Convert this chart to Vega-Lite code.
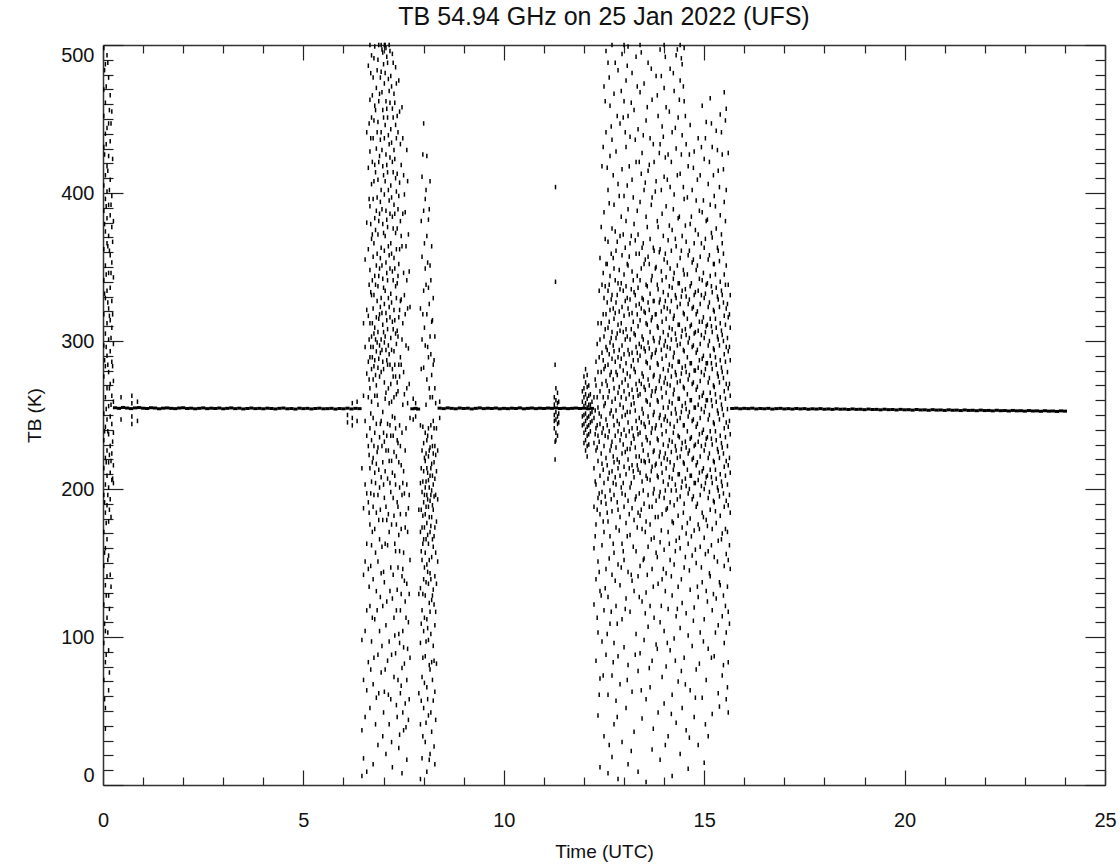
{
"$schema": "https://vega.github.io/schema/vega-lite/v6.json",
"width": 1002, "height": 740,
"autosize": {"type": "none"},
"padding": {"left": 103, "top": 45, "right": 15, "bottom": 81},
"background": "white",
"title": {"text": "TB 54.94 GHz on 25 Jan 2022 (UFS)", "font": "Liberation Sans", "fontSize": 25, "fontWeight": "normal", "color": "#111", "anchor": "middle", "baseline": "alphabetic", "offset": -7},
"config": {"view": {"stroke": null}, "axis": {"grid": false, "domainColor": "#333", "domainWidth": 1.5, "tickColor": "#222", "tickWidth": 1.2, "labelFont": "Liberation Sans", "labelColor": "#111", "titleFont": "Liberation Sans", "titleColor": "#111", "titleFontWeight": "normal"}},
"datasets": {
"base": [
{"t":0.3,"k":254.9},{"t":0.4,"k":254.5},{"t":0.5,"k":255.1},{"t":0.6,"k":254.7},{"t":0.7,"k":254.3},{"t":0.8,"k":254.8},{"t":0.9,"k":255.0},{"t":1.0,"k":254.6},{"t":1.1,"k":254.4},{"t":1.2,"k":254.9},{"t":1.3,"k":254.7},{"t":1.4,"k":254.2},{"t":1.5,"k":254.6},{"t":1.6,"k":254.8},{"t":1.7,"k":254.5},{"t":1.8,"k":254.3},{"t":1.9,"k":254.7},{"t":2.0,"k":254.9},{"t":2.1,"k":254.4},{"t":2.2,"k":254.6},{"t":2.3,"k":254.2},{"t":2.4,"k":254.5},{"t":2.5,"k":254.8},{"t":2.6,"k":254.3},{"t":2.7,"k":254.6},{"t":2.8,"k":254.4},{"t":2.9,"k":254.7},{"t":3.0,"k":254.2},{"t":3.1,"k":254.5},{"t":3.2,"k":254.8},{"t":3.3,"k":254.3},{"t":3.4,"k":254.6},{"t":3.5,"k":254.1},{"t":3.6,"k":254.4},{"t":3.7,"k":254.7},{"t":3.8,"k":254.3},{"t":3.9,"k":254.5},{"t":4.0,"k":254.2},{"t":4.1,"k":254.6},{"t":4.2,"k":254.4},{"t":4.3,"k":254.1},{"t":4.4,"k":254.5},{"t":4.5,"k":254.7},{"t":4.6,"k":254.2},{"t":4.7,"k":254.4},{"t":4.8,"k":254.0},{"t":4.9,"k":254.6},{"t":5.0,"k":254.3},{"t":5.1,"k":254.5},{"t":5.2,"k":254.1},{"t":5.3,"k":254.4},{"t":5.4,"k":254.6},{"t":5.5,"k":254.2},{"t":5.6,"k":254.3},{"t":5.7,"k":254.5},{"t":5.8,"k":254.0},{"t":5.9,"k":254.4},{"t":6.0,"k":254.2},{"t":6.1,"k":254.6},{"t":6.2,"k":254.1},{"t":6.3,"k":254.5},{"t":6.4,"k":254.3},
{"t":7.72,"k":254.2},{"t":7.8,"k":254.5},{"t":7.86,"k":254.0},
{"t":8.4,"k":254.6},{"t":8.5,"k":254.3},{"t":8.6,"k":254.8},{"t":8.7,"k":254.5},{"t":8.8,"k":254.2},{"t":8.9,"k":254.7},{"t":9.0,"k":254.4},{"t":9.1,"k":254.6},{"t":9.2,"k":254.1},{"t":9.3,"k":254.5},{"t":9.4,"k":254.8},{"t":9.5,"k":254.3},{"t":9.6,"k":254.6},{"t":9.7,"k":254.4},{"t":9.8,"k":254.7},{"t":9.9,"k":254.2},{"t":10.0,"k":254.5},{"t":10.1,"k":254.3},{"t":10.2,"k":254.6},{"t":10.3,"k":254.4},{"t":10.4,"k":254.8},{"t":10.5,"k":254.2},{"t":10.6,"k":254.5},{"t":10.7,"k":254.7},{"t":10.8,"k":254.3},{"t":10.9,"k":254.6},{"t":11.0,"k":254.4},{"t":11.1,"k":254.7},{"t":11.2,"k":254.5},{"t":11.3,"k":254.8},{"t":11.4,"k":254.4},{"t":11.5,"k":254.6},{"t":11.6,"k":254.3},{"t":11.7,"k":254.5},{"t":11.8,"k":254.7},{"t":11.9,"k":254.4},{"t":12.0,"k":254.6},{"t":12.1,"k":254.2},{"t":12.2,"k":254.5},
{"t":15.7,"k":254.4},{"t":15.8,"k":254.6},{"t":15.9,"k":254.2},{"t":16.0,"k":254.5},{"t":16.1,"k":254.3},{"t":16.2,"k":254.6},{"t":16.3,"k":254.1},{"t":16.4,"k":254.4},{"t":16.5,"k":254.2},{"t":16.6,"k":254.5},{"t":16.7,"k":254.0},{"t":16.8,"k":254.3},{"t":16.9,"k":254.5},{"t":17.0,"k":254.1},{"t":17.1,"k":254.3},{"t":17.2,"k":254.0},{"t":17.3,"k":254.4},{"t":17.4,"k":254.1},{"t":17.5,"k":254.3},{"t":17.6,"k":253.9},{"t":17.7,"k":254.2},{"t":17.8,"k":254.0},{"t":17.9,"k":254.3},{"t":18.0,"k":253.9},{"t":18.1,"k":254.1},{"t":18.2,"k":253.8},{"t":18.3,"k":254.2},{"t":18.4,"k":253.9},{"t":18.5,"k":254.0},{"t":18.6,"k":253.7},{"t":18.7,"k":254.1},{"t":18.8,"k":253.8},{"t":18.9,"k":253.9},{"t":19.0,"k":253.6},{"t":19.1,"k":254.0},{"t":19.2,"k":253.7},{"t":19.3,"k":253.8},{"t":19.4,"k":253.5},{"t":19.5,"k":253.9},{"t":19.6,"k":253.6},{"t":19.7,"k":253.7},{"t":19.8,"k":253.4},{"t":19.9,"k":253.8},{"t":20.0,"k":253.5},{"t":20.1,"k":253.6},{"t":20.2,"k":253.3},{"t":20.3,"k":253.7},{"t":20.4,"k":253.4},{"t":20.5,"k":253.5},{"t":20.6,"k":253.2},{"t":20.7,"k":253.6},{"t":20.8,"k":253.3},{"t":20.9,"k":253.4},{"t":21.0,"k":253.1},{"t":21.1,"k":253.5},{"t":21.2,"k":253.2},{"t":21.3,"k":253.3},{"t":21.4,"k":253.0},{"t":21.5,"k":253.4},{"t":21.6,"k":253.1},{"t":21.7,"k":253.2},{"t":21.8,"k":252.9},{"t":21.9,"k":253.3},{"t":22.0,"k":253.0},{"t":22.1,"k":253.1},{"t":22.2,"k":252.8},{"t":22.3,"k":253.2},{"t":22.4,"k":252.9},{"t":22.5,"k":253.0},{"t":22.6,"k":252.7},{"t":22.7,"k":253.1},{"t":22.8,"k":252.8},{"t":22.9,"k":252.9},{"t":23.0,"k":252.6},{"t":23.1,"k":253.0},{"t":23.2,"k":252.7},{"t":23.3,"k":252.8},{"t":23.4,"k":252.5},{"t":23.5,"k":252.9},{"t":23.6,"k":252.6},{"t":23.7,"k":252.7},{"t":23.8,"k":252.4},{"t":23.9,"k":252.8},{"t":24.0,"k":252.6}
],
"noise": [
{"t":0.02,"k":498},{"t":0.02,"k":470},{"t":0.02,"k":452},{"t":0.02,"k":431},{"t":0.02,"k":405},{"t":0.02,"k":388},{"t":0.02,"k":362},{"t":0.02,"k":341},{"t":0.02,"k":318},{"t":0.02,"k":297},{"t":0.02,"k":276},{"t":0.02,"k":251},{"t":0.02,"k":233},{"t":0.02,"k":214},{"t":0.02,"k":196},{"t":0.02,"k":171},{"t":0.02,"k":148},{"t":0.02,"k":122},{"t":0.02,"k":96},{"t":0.02,"k":71},
{"t":0.06,"k":487},{"t":0.06,"k":461},{"t":0.06,"k":440},{"t":0.06,"k":412},{"t":0.06,"k":396},{"t":0.06,"k":374},{"t":0.06,"k":351},{"t":0.06,"k":329},{"t":0.06,"k":305},{"t":0.06,"k":283},{"t":0.06,"k":262},{"t":0.06,"k":242},{"t":0.06,"k":221},{"t":0.06,"k":203},{"t":0.06,"k":184},{"t":0.06,"k":160},{"t":0.06,"k":135},{"t":0.06,"k":104},{"t":0.06,"k":83},{"t":0.06,"k":52},{"t":0.06,"k":38},
{"t":0.1,"k":493},{"t":0.1,"k":444},{"t":0.1,"k":418},{"t":0.1,"k":401},{"t":0.1,"k":383},{"t":0.1,"k":366},{"t":0.1,"k":334},{"t":0.1,"k":312},{"t":0.1,"k":290},{"t":0.1,"k":268},{"t":0.1,"k":247},{"t":0.1,"k":226},{"t":0.1,"k":209},{"t":0.1,"k":189},{"t":0.1,"k":166},{"t":0.1,"k":141},{"t":0.1,"k":113},
{"t":0.14,"k":478},{"t":0.14,"k":447},{"t":0.14,"k":425},{"t":0.14,"k":392},{"t":0.14,"k":371},{"t":0.14,"k":346},{"t":0.14,"k":322},{"t":0.14,"k":301},{"t":0.14,"k":279},{"t":0.14,"k":256},{"t":0.14,"k":237},{"t":0.14,"k":218},{"t":0.14,"k":201},{"t":0.14,"k":178},{"t":0.14,"k":155},{"t":0.14,"k":128},{"t":0.14,"k":91},{"t":0.14,"k":64},
{"t":0.18,"k":466},{"t":0.18,"k":435},{"t":0.18,"k":409},{"t":0.18,"k":385},{"t":0.18,"k":358},{"t":0.18,"k":336},{"t":0.18,"k":314},{"t":0.18,"k":293},{"t":0.18,"k":271},{"t":0.18,"k":249},{"t":0.18,"k":229},{"t":0.18,"k":211},{"t":0.18,"k":193},{"t":0.18,"k":142},
{"t":0.22,"k":455},{"t":0.22,"k":398},{"t":0.22,"k":377},{"t":0.22,"k":353},{"t":0.22,"k":327},{"t":0.22,"k":309},{"t":0.22,"k":286},{"t":0.22,"k":263},{"t":0.22,"k":244},{"t":0.22,"k":224},{"t":0.22,"k":206},
{"t":0.26,"k":381},{"t":0.26,"k":343},{"t":0.26,"k":298},{"t":0.26,"k":273},{"t":0.26,"k":259},{"t":0.26,"k":238},{"t":0.26,"k":216},{"t":0.26,"k":204},
{"t":0.04,"k":483},{"t":0.04,"k":426},{"t":0.04,"k":379},{"t":0.04,"k":332},{"t":0.04,"k":287},{"t":0.04,"k":239},{"t":0.04,"k":191},{"t":0.04,"k":157},{"t":0.04,"k":109},{"t":0.04,"k":58},
{"t":0.08,"k":472},{"t":0.08,"k":433},{"t":0.08,"k":391},{"t":0.08,"k":345},{"t":0.08,"k":296},{"t":0.08,"k":254},{"t":0.08,"k":218},{"t":0.08,"k":177},{"t":0.08,"k":128},{"t":0.08,"k":88},
{"t":0.12,"k":488},{"t":0.12,"k":415},{"t":0.12,"k":364},{"t":0.12,"k":326},{"t":0.12,"k":284},{"t":0.12,"k":239},{"t":0.12,"k":196},{"t":0.12,"k":152},{"t":0.12,"k":103},
{"t":0.16,"k":456},{"t":0.16,"k":402},{"t":0.16,"k":361},{"t":0.16,"k":317},{"t":0.16,"k":268},{"t":0.16,"k":223},{"t":0.16,"k":186},{"t":0.16,"k":119},{"t":0.16,"k":76},
{"t":0.2,"k":447},{"t":0.2,"k":392},{"t":0.2,"k":346},{"t":0.2,"k":302},{"t":0.2,"k":257},{"t":0.2,"k":219},{"t":0.2,"k":181},{"t":0.2,"k":134},
{"t":0.24,"k":423},{"t":0.24,"k":367},{"t":0.24,"k":318},{"t":0.24,"k":283},{"t":0.24,"k":232},{"t":0.24,"k":207},
{"t":0.45,"k":247},{"t":0.45,"k":262},{"t":0.72,"k":244},{"t":0.72,"k":249},{"t":0.72,"k":258},{"t":0.72,"k":263},{"t":0.86,"k":246},{"t":0.86,"k":259},{"t":6.1,"k":245},{"t":6.1,"k":250},{"t":6.22,"k":243},{"t":6.22,"k":248},{"t":6.22,"k":258},{"t":6.34,"k":246},{"t":6.34,"k":259},{"t":7.74,"k":247},{"t":7.74,"k":261},{"t":7.8,"k":249},{"t":7.8,"k":258},{"t":8.4,"k":248},{"t":8.4,"k":259},
{"t":6.46,"k":214},{"t":6.46,"k":98},{"t":6.46,"k":37},{"t":6.46,"k":6},
{"t":6.5,"k":312},{"t":6.5,"k":263},{"t":6.5,"k":187},{"t":6.5,"k":142},{"t":6.5,"k":71},{"t":6.5,"k":18},
{"t":6.54,"k":355},{"t":6.54,"k":296},{"t":6.54,"k":246},{"t":6.54,"k":203},{"t":6.54,"k":151},{"t":6.54,"k":104},{"t":6.54,"k":46},
{"t":6.58,"k":441},{"t":6.58,"k":380},{"t":6.58,"k":321},{"t":6.58,"k":278},{"t":6.58,"k":236},{"t":6.58,"k":197},{"t":6.58,"k":163},{"t":6.58,"k":118},{"t":6.58,"k":64},{"t":6.58,"k":9},
{"t":6.62,"k":486},{"t":6.62,"k":417},{"t":6.62,"k":362},{"t":6.62,"k":317},{"t":6.62,"k":286},{"t":6.62,"k":262},{"t":6.62,"k":229},{"t":6.62,"k":191},{"t":6.62,"k":146},{"t":6.62,"k":83},
{"t":6.66,"k":502},{"t":6.66,"k":463},{"t":6.66,"k":428},{"t":6.66,"k":391},{"t":6.66,"k":348},{"t":6.66,"k":312},{"t":6.66,"k":289},{"t":6.66,"k":268},{"t":6.66,"k":241},{"t":6.66,"k":214},{"t":6.66,"k":176},{"t":6.66,"k":121},{"t":6.66,"k":52},
{"t":6.7,"k":493},{"t":6.7,"k":451},{"t":6.7,"k":406},{"t":6.7,"k":369},{"t":6.7,"k":331},{"t":6.7,"k":303},{"t":6.7,"k":281},{"t":6.7,"k":259},{"t":6.7,"k":233},{"t":6.7,"k":205},{"t":6.7,"k":162},{"t":6.7,"k":97},
{"t":6.74,"k":478},{"t":6.74,"k":437},{"t":6.74,"k":396},{"t":6.74,"k":357},{"t":6.74,"k":322},{"t":6.74,"k":296},{"t":6.74,"k":274},{"t":6.74,"k":248},{"t":6.74,"k":221},{"t":6.74,"k":188},{"t":6.74,"k":139},{"t":6.74,"k":68},{"t":6.74,"k":14},
{"t":6.78,"k":499},{"t":6.78,"k":459},{"t":6.78,"k":419},{"t":6.78,"k":383},{"t":6.78,"k":344},{"t":6.78,"k":309},{"t":6.78,"k":287},{"t":6.78,"k":263},{"t":6.78,"k":238},{"t":6.78,"k":211},{"t":6.78,"k":173},{"t":6.78,"k":112},
{"t":6.82,"k":471},{"t":6.82,"k":430},{"t":6.82,"k":388},{"t":6.82,"k":351},{"t":6.82,"k":316},{"t":6.82,"k":293},{"t":6.82,"k":270},{"t":6.82,"k":244},{"t":6.82,"k":217},{"t":6.82,"k":184},{"t":6.82,"k":131},{"t":6.82,"k":59},
{"t":6.86,"k":490},{"t":6.86,"k":448},{"t":6.86,"k":409},{"t":6.86,"k":372},{"t":6.86,"k":337},{"t":6.86,"k":306},{"t":6.86,"k":282},{"t":6.86,"k":257},{"t":6.86,"k":228},{"t":6.86,"k":196},{"t":6.86,"k":151},{"t":6.86,"k":88},{"t":6.86,"k":27},
{"t":6.9,"k":467},{"t":6.9,"k":425},{"t":6.9,"k":386},{"t":6.9,"k":349},{"t":6.9,"k":318},{"t":6.9,"k":297},{"t":6.9,"k":276},{"t":6.9,"k":235},{"t":6.9,"k":201},{"t":6.9,"k":166},{"t":6.9,"k":104},
{"t":6.94,"k":503},{"t":6.94,"k":482},{"t":6.94,"k":441},{"t":6.94,"k":402},{"t":6.94,"k":363},{"t":6.94,"k":329},{"t":6.94,"k":301},{"t":6.94,"k":279},{"t":6.94,"k":246},{"t":6.94,"k":208},{"t":6.94,"k":143},{"t":6.94,"k":76},
{"t":6.98,"k":495},{"t":6.98,"k":456},{"t":6.98,"k":418},{"t":6.98,"k":379},{"t":6.98,"k":342},{"t":6.98,"k":311},{"t":6.98,"k":286},{"t":6.98,"k":252},{"t":6.98,"k":218},{"t":6.98,"k":179},{"t":6.98,"k":121},{"t":6.98,"k":33},
{"t":7.02,"k":506},{"t":7.02,"k":474},{"t":7.02,"k":437},{"t":7.02,"k":399},{"t":7.02,"k":361},{"t":7.02,"k":325},{"t":7.02,"k":299},{"t":7.02,"k":272},{"t":7.02,"k":232},{"t":7.02,"k":194},{"t":7.02,"k":137},{"t":7.02,"k":63},
{"t":7.06,"k":498},{"t":7.06,"k":462},{"t":7.06,"k":426},{"t":7.06,"k":388},{"t":7.06,"k":353},{"t":7.06,"k":319},{"t":7.06,"k":294},{"t":7.06,"k":265},{"t":7.06,"k":226},{"t":7.06,"k":188},{"t":7.06,"k":108},{"t":7.06,"k":21},
{"t":7.1,"k":488},{"t":7.1,"k":451},{"t":7.1,"k":414},{"t":7.1,"k":377},{"t":7.1,"k":341},{"t":7.1,"k":308},{"t":7.1,"k":284},{"t":7.1,"k":244},{"t":7.1,"k":207},{"t":7.1,"k":162},{"t":7.1,"k":84},
{"t":7.14,"k":501},{"t":7.14,"k":469},{"t":7.14,"k":433},{"t":7.14,"k":395},{"t":7.14,"k":358},{"t":7.14,"k":323},{"t":7.14,"k":291},{"t":7.14,"k":258},{"t":7.14,"k":219},{"t":7.14,"k":171},{"t":7.14,"k":97},{"t":7.14,"k":41},
{"t":7.18,"k":479},{"t":7.18,"k":443},{"t":7.18,"k":405},{"t":7.18,"k":366},{"t":7.18,"k":332},{"t":7.18,"k":302},{"t":7.18,"k":271},{"t":7.18,"k":236},{"t":7.18,"k":198},{"t":7.18,"k":147},{"t":7.18,"k":58},
{"t":7.22,"k":494},{"t":7.22,"k":457},{"t":7.22,"k":421},{"t":7.22,"k":384},{"t":7.22,"k":347},{"t":7.22,"k":313},{"t":7.22,"k":281},{"t":7.22,"k":249},{"t":7.22,"k":211},{"t":7.22,"k":126},{"t":7.22,"k":12},
{"t":7.26,"k":467},{"t":7.26,"k":429},{"t":7.26,"k":392},{"t":7.26,"k":356},{"t":7.26,"k":321},{"t":7.26,"k":293},{"t":7.26,"k":262},{"t":7.26,"k":225},{"t":7.26,"k":182},{"t":7.26,"k":113},{"t":7.26,"k":73},
{"t":7.3,"k":485},{"t":7.3,"k":446},{"t":7.3,"k":410},{"t":7.3,"k":373},{"t":7.3,"k":337},{"t":7.3,"k":305},{"t":7.3,"k":276},{"t":7.3,"k":241},{"t":7.3,"k":203},{"t":7.3,"k":158},{"t":7.3,"k":89},
{"t":7.34,"k":452},{"t":7.34,"k":413},{"t":7.34,"k":376},{"t":7.34,"k":339},{"t":7.34,"k":307},{"t":7.34,"k":272},{"t":7.34,"k":233},{"t":7.34,"k":191},{"t":7.34,"k":132},{"t":7.34,"k":46},
{"t":7.38,"k":476},{"t":7.38,"k":398},{"t":7.38,"k":352},{"t":7.38,"k":316},{"t":7.38,"k":284},{"t":7.38,"k":218},{"t":7.38,"k":169},{"t":7.38,"k":102},{"t":7.38,"k":25},
{"t":7.42,"k":433},{"t":7.42,"k":381},{"t":7.42,"k":327},{"t":7.42,"k":289},{"t":7.42,"k":229},{"t":7.42,"k":183},{"t":7.42,"k":118},{"t":7.42,"k":62},
{"t":7.46,"k":458},{"t":7.46,"k":364},{"t":7.46,"k":301},{"t":7.46,"k":238},{"t":7.46,"k":196},{"t":7.46,"k":141},{"t":7.46,"k":79},{"t":7.46,"k":8},
{"t":7.5,"k":412},{"t":7.5,"k":346},{"t":7.5,"k":279},{"t":7.5,"k":212},{"t":7.5,"k":157},{"t":7.5,"k":93},{"t":7.5,"k":37},
{"t":7.54,"k":387},{"t":7.54,"k":318},{"t":7.54,"k":226},{"t":7.54,"k":174},{"t":7.54,"k":124},{"t":7.54,"k":55},
{"t":7.58,"k":429},{"t":7.58,"k":341},{"t":7.58,"k":268},{"t":7.58,"k":203},{"t":7.58,"k":136},{"t":7.58,"k":71},{"t":7.58,"k":17},
{"t":7.62,"k":372},{"t":7.62,"k":295},{"t":7.62,"k":187},{"t":7.62,"k":110},{"t":7.62,"k":44},
{"t":7.66,"k":323},{"t":7.66,"k":248},{"t":7.66,"k":152},{"t":7.66,"k":86},
{"t":6.64,"k":447},{"t":6.64,"k":396},{"t":6.64,"k":338},{"t":6.64,"k":301},{"t":6.64,"k":274},{"t":6.64,"k":223},{"t":6.64,"k":184},{"t":6.64,"k":134},
{"t":6.68,"k":481},{"t":6.68,"k":437},{"t":6.68,"k":379},{"t":6.68,"k":333},{"t":6.68,"k":296},{"t":6.68,"k":251},{"t":6.68,"k":197},{"t":6.68,"k":148},{"t":6.68,"k":78},
{"t":6.72,"k":466},{"t":6.72,"k":421},{"t":6.72,"k":372},{"t":6.72,"k":341},{"t":6.72,"k":312},{"t":6.72,"k":289},{"t":6.72,"k":218},{"t":6.72,"k":171},{"t":6.72,"k":113},
{"t":6.76,"k":491},{"t":6.76,"k":449},{"t":6.76,"k":408},{"t":6.76,"k":366},{"t":6.76,"k":331},{"t":6.76,"k":305},{"t":6.76,"k":283},{"t":6.76,"k":229},{"t":6.76,"k":196},{"t":6.76,"k":86},
{"t":6.8,"k":456},{"t":6.8,"k":414},{"t":6.8,"k":375},{"t":6.8,"k":338},{"t":6.8,"k":301},{"t":6.8,"k":277},{"t":6.8,"k":204},{"t":6.8,"k":157},{"t":6.8,"k":41},
{"t":6.84,"k":483},{"t":6.84,"k":441},{"t":6.84,"k":397},{"t":6.84,"k":359},{"t":6.84,"k":327},{"t":6.84,"k":299},{"t":6.84,"k":263},{"t":6.84,"k":225},{"t":6.84,"k":118},
{"t":6.88,"k":502},{"t":6.88,"k":462},{"t":6.88,"k":421},{"t":6.88,"k":381},{"t":6.88,"k":344},{"t":6.88,"k":315},{"t":6.88,"k":288},{"t":6.88,"k":213},{"t":6.88,"k":179},{"t":6.88,"k":62},
{"t":6.92,"k":478},{"t":6.92,"k":436},{"t":6.92,"k":394},{"t":6.92,"k":356},{"t":6.92,"k":323},{"t":6.92,"k":292},{"t":6.92,"k":244},{"t":6.92,"k":186},{"t":6.92,"k":127},
{"t":6.96,"k":497},{"t":6.96,"k":468},{"t":6.96,"k":429},{"t":6.96,"k":389},{"t":6.96,"k":351},{"t":6.96,"k":319},{"t":6.96,"k":294},{"t":6.96,"k":229},{"t":6.96,"k":161},{"t":6.96,"k":94},
{"t":7.0,"k":487},{"t":7.0,"k":451},{"t":7.0,"k":412},{"t":7.0,"k":373},{"t":7.0,"k":336},{"t":7.0,"k":306},{"t":7.0,"k":281},{"t":7.0,"k":238},{"t":7.0,"k":203},{"t":7.0,"k":144},{"t":7.0,"k":49},
{"t":7.04,"k":503},{"t":7.04,"k":481},{"t":7.04,"k":446},{"t":7.04,"k":408},{"t":7.04,"k":371},{"t":7.04,"k":334},{"t":7.04,"k":303},{"t":7.04,"k":261},{"t":7.04,"k":212},{"t":7.04,"k":163},{"t":7.04,"k":78},
{"t":7.08,"k":492},{"t":7.08,"k":457},{"t":7.08,"k":419},{"t":7.08,"k":382},{"t":7.08,"k":346},{"t":7.08,"k":314},{"t":7.08,"k":287},{"t":7.08,"k":236},{"t":7.08,"k":179},{"t":7.08,"k":124},
{"t":7.12,"k":477},{"t":7.12,"k":439},{"t":7.12,"k":402},{"t":7.12,"k":364},{"t":7.12,"k":329},{"t":7.12,"k":297},{"t":7.12,"k":268},{"t":7.12,"k":226},{"t":7.12,"k":183},{"t":7.12,"k":61},
{"t":7.16,"k":496},{"t":7.16,"k":461},{"t":7.16,"k":424},{"t":7.16,"k":386},{"t":7.16,"k":349},{"t":7.16,"k":316},{"t":7.16,"k":284},{"t":7.16,"k":243},{"t":7.16,"k":204},{"t":7.16,"k":131},
{"t":7.2,"k":472},{"t":7.2,"k":434},{"t":7.2,"k":397},{"t":7.2,"k":359},{"t":7.2,"k":326},{"t":7.2,"k":294},{"t":7.2,"k":259},{"t":7.2,"k":219},{"t":7.2,"k":176},{"t":7.2,"k":88},{"t":7.2,"k":29},
{"t":7.24,"k":488},{"t":7.24,"k":451},{"t":7.24,"k":414},{"t":7.24,"k":376},{"t":7.24,"k":341},{"t":7.24,"k":308},{"t":7.24,"k":276},{"t":7.24,"k":236},{"t":7.24,"k":194},{"t":7.24,"k":142},
{"t":7.28,"k":461},{"t":7.28,"k":423},{"t":7.28,"k":386},{"t":7.28,"k":349},{"t":7.28,"k":314},{"t":7.28,"k":284},{"t":7.28,"k":248},{"t":7.28,"k":209},{"t":7.28,"k":163},{"t":7.28,"k":101},
{"t":7.32,"k":474},{"t":7.32,"k":437},{"t":7.32,"k":401},{"t":7.32,"k":362},{"t":7.32,"k":329},{"t":7.32,"k":298},{"t":7.32,"k":264},{"t":7.32,"k":222},{"t":7.32,"k":176},{"t":7.32,"k":118},{"t":7.32,"k":54},
{"t":7.36,"k":441},{"t":7.36,"k":389},{"t":7.36,"k":344},{"t":7.36,"k":303},{"t":7.36,"k":266},{"t":7.36,"k":231},{"t":7.36,"k":188},{"t":7.36,"k":147},{"t":7.36,"k":71},
{"t":7.4,"k":455},{"t":7.4,"k":407},{"t":7.4,"k":362},{"t":7.4,"k":321},{"t":7.4,"k":276},{"t":7.4,"k":243},{"t":7.4,"k":201},{"t":7.4,"k":158},{"t":7.4,"k":96},{"t":7.4,"k":34},
{"t":7.44,"k":419},{"t":7.44,"k":371},{"t":7.44,"k":328},{"t":7.44,"k":284},{"t":7.44,"k":216},{"t":7.44,"k":173},{"t":7.44,"k":129},{"t":7.44,"k":67},
{"t":7.48,"k":437},{"t":7.48,"k":386},{"t":7.48,"k":312},{"t":7.48,"k":257},{"t":7.48,"k":204},{"t":7.48,"k":146},{"t":7.48,"k":104},{"t":7.48,"k":49},
{"t":7.52,"k":399},{"t":7.52,"k":331},{"t":7.52,"k":264},{"t":7.52,"k":197},{"t":7.52,"k":138},{"t":7.52,"k":82},
{"t":7.56,"k":364},{"t":7.56,"k":297},{"t":7.56,"k":241},{"t":7.56,"k":183},{"t":7.56,"k":113},{"t":7.56,"k":39},
{"t":7.6,"k":408},{"t":7.6,"k":322},{"t":7.6,"k":258},{"t":7.6,"k":171},{"t":7.6,"k":92},
{"t":7.64,"k":347},{"t":7.64,"k":271},{"t":7.64,"k":196},{"t":7.64,"k":129},{"t":7.64,"k":58},
{"t":7.88,"k":186},{"t":7.88,"k":129},{"t":7.88,"k":62},
{"t":7.92,"k":322},{"t":7.92,"k":243},{"t":7.92,"k":204},{"t":7.92,"k":171},{"t":7.92,"k":133},{"t":7.92,"k":96},{"t":7.92,"k":41},{"t":7.92,"k":4},
{"t":7.96,"k":411},{"t":7.96,"k":357},{"t":7.96,"k":301},{"t":7.96,"k":226},{"t":7.96,"k":198},{"t":7.96,"k":174},{"t":7.96,"k":152},{"t":7.96,"k":118},{"t":7.96,"k":73},{"t":7.96,"k":18},
{"t":8.0,"k":447},{"t":8.0,"k":388},{"t":8.0,"k":334},{"t":8.0,"k":282},{"t":8.0,"k":231},{"t":8.0,"k":212},{"t":8.0,"k":191},{"t":8.0,"k":166},{"t":8.0,"k":139},{"t":8.0,"k":104},{"t":8.0,"k":52},
{"t":8.04,"k":396},{"t":8.04,"k":349},{"t":8.04,"k":297},{"t":8.04,"k":238},{"t":8.04,"k":219},{"t":8.04,"k":201},{"t":8.04,"k":183},{"t":8.04,"k":157},{"t":8.04,"k":128},{"t":8.04,"k":87},{"t":8.04,"k":29},
{"t":8.08,"k":425},{"t":8.08,"k":371},{"t":8.08,"k":318},{"t":8.08,"k":274},{"t":8.08,"k":233},{"t":8.08,"k":214},{"t":8.08,"k":196},{"t":8.08,"k":177},{"t":8.08,"k":149},{"t":8.08,"k":112},{"t":8.08,"k":66},{"t":8.08,"k":9},
{"t":8.12,"k":382},{"t":8.12,"k":336},{"t":8.12,"k":289},{"t":8.12,"k":241},{"t":8.12,"k":222},{"t":8.12,"k":206},{"t":8.12,"k":188},{"t":8.12,"k":163},{"t":8.12,"k":136},{"t":8.12,"k":98},{"t":8.12,"k":47},
{"t":8.16,"k":408},{"t":8.16,"k":351},{"t":8.16,"k":303},{"t":8.16,"k":262},{"t":8.16,"k":228},{"t":8.16,"k":209},{"t":8.16,"k":192},{"t":8.16,"k":171},{"t":8.16,"k":143},{"t":8.16,"k":117},{"t":8.16,"k":78},{"t":8.16,"k":21},
{"t":8.2,"k":364},{"t":8.2,"k":313},{"t":8.2,"k":277},{"t":8.2,"k":235},{"t":8.2,"k":217},{"t":8.2,"k":199},{"t":8.2,"k":181},{"t":8.2,"k":154},{"t":8.2,"k":125},{"t":8.2,"k":83},{"t":8.2,"k":36},
{"t":8.24,"k":329},{"t":8.24,"k":284},{"t":8.24,"k":246},{"t":8.24,"k":224},{"t":8.24,"k":203},{"t":8.24,"k":186},{"t":8.24,"k":161},{"t":8.24,"k":132},{"t":8.24,"k":94},{"t":8.24,"k":57},
{"t":8.28,"k":303},{"t":8.28,"k":268},{"t":8.28,"k":229},{"t":8.28,"k":207},{"t":8.28,"k":174},{"t":8.28,"k":141},{"t":8.28,"k":108},{"t":8.28,"k":63},{"t":8.28,"k":14},
{"t":8.32,"k":241},{"t":8.32,"k":212},{"t":8.32,"k":178},{"t":8.32,"k":136},{"t":8.32,"k":82},
{"t":8.35,"k":226},{"t":8.35,"k":193},{"t":8.35,"k":151},
{"t":7.94,"k":381},{"t":7.94,"k":281},{"t":7.94,"k":214},{"t":7.94,"k":186},{"t":7.94,"k":158},{"t":7.94,"k":109},{"t":7.94,"k":57},
{"t":7.98,"k":426},{"t":7.98,"k":318},{"t":7.98,"k":242},{"t":7.98,"k":205},{"t":7.98,"k":182},{"t":7.98,"k":163},{"t":7.98,"k":129},{"t":7.98,"k":86},{"t":7.98,"k":33},
{"t":8.02,"k":366},{"t":8.02,"k":309},{"t":8.02,"k":221},{"t":8.02,"k":196},{"t":8.02,"k":174},{"t":8.02,"k":147},{"t":8.02,"k":113},{"t":8.02,"k":69},
{"t":8.06,"k":402},{"t":8.06,"k":338},{"t":8.06,"k":257},{"t":8.06,"k":224},{"t":8.06,"k":205},{"t":8.06,"k":188},{"t":8.06,"k":166},{"t":8.06,"k":137},{"t":8.06,"k":97},{"t":8.06,"k":42},
{"t":8.1,"k":353},{"t":8.1,"k":296},{"t":8.1,"k":236},{"t":8.1,"k":211},{"t":8.1,"k":193},{"t":8.1,"k":169},{"t":8.1,"k":144},{"t":8.1,"k":106},{"t":8.1,"k":58},
{"t":8.14,"k":389},{"t":8.14,"k":325},{"t":8.14,"k":268},{"t":8.14,"k":226},{"t":8.14,"k":201},{"t":8.14,"k":181},{"t":8.14,"k":152},{"t":8.14,"k":123},{"t":8.14,"k":81},{"t":8.14,"k":17},
{"t":8.18,"k":341},{"t":8.18,"k":291},{"t":8.18,"k":243},{"t":8.18,"k":214},{"t":8.18,"k":196},{"t":8.18,"k":175},{"t":8.18,"k":139},{"t":8.18,"k":102},{"t":8.18,"k":49},
{"t":8.22,"k":314},{"t":8.22,"k":262},{"t":8.22,"k":229},{"t":8.22,"k":209},{"t":8.22,"k":189},{"t":8.22,"k":166},{"t":8.22,"k":128},{"t":8.22,"k":71},
{"t":8.26,"k":287},{"t":8.26,"k":241},{"t":8.26,"k":218},{"t":8.26,"k":195},{"t":8.26,"k":168},{"t":8.26,"k":122},{"t":8.26,"k":84},{"t":8.26,"k":26},
{"t":8.3,"k":258},{"t":8.3,"k":223},{"t":8.3,"k":196},{"t":8.3,"k":157},{"t":8.3,"k":117},{"t":8.3,"k":44},
{"t":11.29,"k":404},{"t":11.29,"k":340},{"t":11.28,"k":284},{"t":11.28,"k":232},{"t":11.28,"k":220},
{"t":11.26,"k":262},{"t":11.26,"k":257},{"t":11.26,"k":250},{"t":11.26,"k":246},{"t":11.26,"k":241},{"t":11.3,"k":268},{"t":11.3,"k":260},{"t":11.3,"k":252},{"t":11.3,"k":247},{"t":11.3,"k":238},{"t":11.3,"k":233},{"t":11.34,"k":265},{"t":11.34,"k":258},{"t":11.34,"k":249},{"t":11.34,"k":244},{"t":11.34,"k":236},{"t":11.37,"k":259},{"t":11.37,"k":251},{"t":11.37,"k":245},
{"t":11.96,"k":266},{"t":11.96,"k":259},{"t":11.96,"k":249},{"t":11.96,"k":243},{"t":12.0,"k":276},{"t":12.0,"k":268},{"t":12.0,"k":262},{"t":12.0,"k":256},{"t":12.0,"k":250},{"t":12.0,"k":244},{"t":12.0,"k":238},{"t":12.0,"k":231},{"t":12.04,"k":281},{"t":12.04,"k":272},{"t":12.04,"k":264},{"t":12.04,"k":258},{"t":12.04,"k":251},{"t":12.04,"k":246},{"t":12.04,"k":240},{"t":12.04,"k":233},{"t":12.04,"k":226},{"t":12.08,"k":277},{"t":12.08,"k":269},{"t":12.08,"k":261},{"t":12.08,"k":255},{"t":12.08,"k":248},{"t":12.08,"k":242},{"t":12.08,"k":236},{"t":12.08,"k":229},{"t":12.08,"k":222},{"t":12.12,"k":270},{"t":12.12,"k":263},{"t":12.12,"k":257},{"t":12.12,"k":249},{"t":12.12,"k":243},{"t":12.12,"k":237},{"t":12.12,"k":230},{"t":12.16,"k":264},{"t":12.16,"k":257},{"t":12.16,"k":251},{"t":12.16,"k":245},{"t":12.16,"k":239},{"t":12.2,"k":259},{"t":12.2,"k":252},{"t":12.2,"k":246},
{"t":12.25,"k":262},{"t":12.25,"k":248},{"t":12.25,"k":231},{"t":12.25,"k":214},{"t":12.25,"k":188},{"t":12.25,"k":160},{"t":12.25,"k":122},
{"t":12.3,"k":286},{"t":12.3,"k":270},{"t":12.3,"k":241},{"t":12.3,"k":226},{"t":12.3,"k":203},{"t":12.3,"k":176},{"t":12.3,"k":139},{"t":12.3,"k":84},
{"t":12.35,"k":312},{"t":12.35,"k":279},{"t":12.35,"k":255},{"t":12.35,"k":236},{"t":12.35,"k":219},{"t":12.35,"k":194},{"t":12.35,"k":151},{"t":12.35,"k":103},{"t":12.35,"k":47},
{"t":12.4,"k":356},{"t":12.4,"k":301},{"t":12.4,"k":266},{"t":12.4,"k":244},{"t":12.4,"k":209},{"t":12.4,"k":183},{"t":12.4,"k":131},{"t":12.4,"k":72},{"t":12.4,"k":12},
{"t":12.45,"k":418},{"t":12.45,"k":338},{"t":12.45,"k":292},{"t":12.45,"k":271},{"t":12.45,"k":238},{"t":12.45,"k":217},{"t":12.45,"k":198},{"t":12.45,"k":162},{"t":12.45,"k":97},
{"t":12.5,"k":472},{"t":12.5,"k":387},{"t":12.5,"k":329},{"t":12.5,"k":303},{"t":12.5,"k":281},{"t":12.5,"k":256},{"t":12.5,"k":229},{"t":12.5,"k":204},{"t":12.5,"k":171},{"t":12.5,"k":118},{"t":12.5,"k":33},
{"t":12.55,"k":496},{"t":12.55,"k":441},{"t":12.55,"k":352},{"t":12.55,"k":318},{"t":12.55,"k":296},{"t":12.55,"k":273},{"t":12.55,"k":247},{"t":12.55,"k":221},{"t":12.55,"k":190},{"t":12.55,"k":146},{"t":12.55,"k":88},
{"t":12.6,"k":488},{"t":12.6,"k":402},{"t":12.6,"k":367},{"t":12.6,"k":334},{"t":12.6,"k":309},{"t":12.6,"k":284},{"t":12.6,"k":262},{"t":12.6,"k":235},{"t":12.6,"k":207},{"t":12.6,"k":178},{"t":12.6,"k":127},{"t":12.6,"k":61},{"t":12.6,"k":8},
{"t":12.65,"k":459},{"t":12.65,"k":425},{"t":12.65,"k":344},{"t":12.65,"k":321},{"t":12.65,"k":299},{"t":12.65,"k":277},{"t":12.65,"k":251},{"t":12.65,"k":226},{"t":12.65,"k":199},{"t":12.65,"k":168},{"t":12.65,"k":109},
{"t":12.7,"k":501},{"t":12.7,"k":436},{"t":12.7,"k":376},{"t":12.7,"k":331},{"t":12.7,"k":306},{"t":12.7,"k":288},{"t":12.7,"k":259},{"t":12.7,"k":232},{"t":12.7,"k":212},{"t":12.7,"k":185},{"t":12.7,"k":142},{"t":12.7,"k":74},{"t":12.7,"k":19},
{"t":12.75,"k":467},{"t":12.75,"k":392},{"t":12.75,"k":349},{"t":12.75,"k":315},{"t":12.75,"k":293},{"t":12.75,"k":268},{"t":12.75,"k":243},{"t":12.75,"k":218},{"t":12.75,"k":196},{"t":12.75,"k":157},{"t":12.75,"k":96},{"t":12.75,"k":41},
{"t":12.8,"k":428},{"t":12.8,"k":361},{"t":12.8,"k":326},{"t":12.8,"k":302},{"t":12.8,"k":279},{"t":12.8,"k":253},{"t":12.8,"k":228},{"t":12.8,"k":203},{"t":12.8,"k":174},{"t":12.8,"k":121},{"t":12.8,"k":57},
{"t":12.85,"k":483},{"t":12.85,"k":406},{"t":12.85,"k":339},{"t":12.85,"k":311},{"t":12.85,"k":289},{"t":12.85,"k":265},{"t":12.85,"k":239},{"t":12.85,"k":214},{"t":12.85,"k":186},{"t":12.85,"k":149},{"t":12.85,"k":87},{"t":12.85,"k":4},
{"t":12.9,"k":447},{"t":12.9,"k":371},{"t":12.9,"k":335},{"t":12.9,"k":307},{"t":12.9,"k":283},{"t":12.9,"k":257},{"t":12.9,"k":233},{"t":12.9,"k":209},{"t":12.9,"k":181},{"t":12.9,"k":135},{"t":12.9,"k":68},
{"t":12.95,"k":494},{"t":12.95,"k":416},{"t":12.95,"k":358},{"t":12.95,"k":323},{"t":12.95,"k":297},{"t":12.95,"k":272},{"t":12.95,"k":249},{"t":12.95,"k":224},{"t":12.95,"k":197},{"t":12.95,"k":163},{"t":12.95,"k":112},{"t":12.95,"k":29},
{"t":13.0,"k":505},{"t":13.0,"k":462},{"t":13.0,"k":398},{"t":13.0,"k":345},{"t":13.0,"k":317},{"t":13.0,"k":291},{"t":13.0,"k":266},{"t":13.0,"k":240},{"t":13.0,"k":215},{"t":13.0,"k":188},{"t":13.0,"k":152},{"t":13.0,"k":93},
{"t":13.05,"k":476},{"t":13.05,"k":431},{"t":13.05,"k":381},{"t":13.05,"k":337},{"t":13.05,"k":308},{"t":13.05,"k":285},{"t":13.05,"k":261},{"t":13.05,"k":236},{"t":13.05,"k":210},{"t":13.05,"k":177},{"t":13.05,"k":126},{"t":13.05,"k":52},
{"t":13.1,"k":499},{"t":13.1,"k":452},{"t":13.1,"k":389},{"t":13.1,"k":351},{"t":13.1,"k":322},{"t":13.1,"k":294},{"t":13.1,"k":270},{"t":13.1,"k":245},{"t":13.1,"k":220},{"t":13.1,"k":192},{"t":13.1,"k":144},{"t":13.1,"k":81},{"t":13.1,"k":14},
{"t":13.15,"k":438},{"t":13.15,"k":366},{"t":13.15,"k":328},{"t":13.15,"k":301},{"t":13.15,"k":276},{"t":13.15,"k":252},{"t":13.15,"k":227},{"t":13.15,"k":201},{"t":13.15,"k":169},{"t":13.15,"k":117},
{"t":13.2,"k":481},{"t":13.2,"k":409},{"t":13.2,"k":347},{"t":13.2,"k":319},{"t":13.2,"k":292},{"t":13.2,"k":267},{"t":13.2,"k":241},{"t":13.2,"k":216},{"t":13.2,"k":187},{"t":13.2,"k":138},{"t":13.2,"k":63},
{"t":13.25,"k":456},{"t":13.25,"k":379},{"t":13.25,"k":333},{"t":13.25,"k":305},{"t":13.25,"k":281},{"t":13.25,"k":258},{"t":13.25,"k":234},{"t":13.25,"k":208},{"t":13.25,"k":179},{"t":13.25,"k":131},{"t":13.25,"k":36},
{"t":13.3,"k":492},{"t":13.3,"k":421},{"t":13.3,"k":359},{"t":13.3,"k":324},{"t":13.3,"k":296},{"t":13.3,"k":271},{"t":13.3,"k":246},{"t":13.3,"k":222},{"t":13.3,"k":195},{"t":13.3,"k":158},{"t":13.3,"k":102},
{"t":13.35,"k":443},{"t":13.35,"k":372},{"t":13.35,"k":336},{"t":13.35,"k":310},{"t":13.35,"k":287},{"t":13.35,"k":263},{"t":13.35,"k":237},{"t":13.35,"k":213},{"t":13.35,"k":184},{"t":13.35,"k":141},{"t":13.35,"k":77},{"t":13.35,"k":9},
{"t":13.4,"k":502},{"t":13.4,"k":468},{"t":13.4,"k":394},{"t":13.4,"k":341},{"t":13.4,"k":314},{"t":13.4,"k":290},{"t":13.4,"k":264},{"t":13.4,"k":238},{"t":13.4,"k":211},{"t":13.4,"k":182},{"t":13.4,"k":148},{"t":13.4,"k":89},
{"t":13.45,"k":427},{"t":13.45,"k":363},{"t":13.45,"k":329},{"t":13.45,"k":303},{"t":13.45,"k":278},{"t":13.45,"k":254},{"t":13.45,"k":230},{"t":13.45,"k":205},{"t":13.45,"k":173},{"t":13.45,"k":124},{"t":13.45,"k":45},
{"t":13.5,"k":474},{"t":13.5,"k":402},{"t":13.5,"k":352},{"t":13.5,"k":320},{"t":13.5,"k":295},{"t":13.5,"k":269},{"t":13.5,"k":244},{"t":13.5,"k":219},{"t":13.5,"k":190},{"t":13.5,"k":153},{"t":13.5,"k":98},
{"t":13.55,"k":449},{"t":13.55,"k":384},{"t":13.55,"k":338},{"t":13.55,"k":312},{"t":13.55,"k":286},{"t":13.55,"k":260},{"t":13.55,"k":235},{"t":13.55,"k":209},{"t":13.55,"k":178},{"t":13.55,"k":130},{"t":13.55,"k":58},{"t":13.55,"k":2},
{"t":13.6,"k":488},{"t":13.6,"k":415},{"t":13.6,"k":357},{"t":13.6,"k":326},{"t":13.6,"k":299},{"t":13.6,"k":274},{"t":13.6,"k":249},{"t":13.6,"k":223},{"t":13.6,"k":196},{"t":13.6,"k":161},{"t":13.6,"k":107},
{"t":13.65,"k":437},{"t":13.65,"k":369},{"t":13.65,"k":332},{"t":13.65,"k":306},{"t":13.65,"k":282},{"t":13.65,"k":257},{"t":13.65,"k":231},{"t":13.65,"k":206},{"t":13.65,"k":176},{"t":13.65,"k":121},{"t":13.65,"k":66},
{"t":13.7,"k":463},{"t":13.7,"k":397},{"t":13.7,"k":344},{"t":13.7,"k":316},{"t":13.7,"k":291},{"t":13.7,"k":266},{"t":13.7,"k":241},{"t":13.7,"k":215},{"t":13.7,"k":188},{"t":13.7,"k":146},{"t":13.7,"k":84},{"t":13.7,"k":24},
{"t":13.75,"k":421},{"t":13.75,"k":361},{"t":13.75,"k":327},{"t":13.75,"k":300},{"t":13.75,"k":277},{"t":13.75,"k":252},{"t":13.75,"k":226},{"t":13.75,"k":200},{"t":13.75,"k":167},{"t":13.75,"k":113},
{"t":13.8,"k":479},{"t":13.8,"k":408},{"t":13.8,"k":350},{"t":13.8,"k":318},{"t":13.8,"k":294},{"t":13.8,"k":268},{"t":13.8,"k":243},{"t":13.8,"k":217},{"t":13.8,"k":192},{"t":13.8,"k":157},{"t":13.8,"k":95},
{"t":13.85,"k":452},{"t":13.85,"k":377},{"t":13.85,"k":335},{"t":13.85,"k":309},{"t":13.85,"k":284},{"t":13.85,"k":259},{"t":13.85,"k":233},{"t":13.85,"k":208},{"t":13.85,"k":181},{"t":13.85,"k":136},{"t":13.85,"k":49},
{"t":13.9,"k":497},{"t":13.9,"k":433},{"t":13.9,"k":362},{"t":13.9,"k":328},{"t":13.9,"k":302},{"t":13.9,"k":276},{"t":13.9,"k":250},{"t":13.9,"k":225},{"t":13.9,"k":198},{"t":13.9,"k":164},{"t":13.9,"k":110},{"t":13.9,"k":17},
{"t":13.95,"k":445},{"t":13.95,"k":386},{"t":13.95,"k":341},{"t":13.95,"k":313},{"t":13.95,"k":288},{"t":13.95,"k":262},{"t":13.95,"k":237},{"t":13.95,"k":211},{"t":13.95,"k":183},{"t":13.95,"k":139},{"t":13.95,"k":73},
{"t":14.0,"k":503},{"t":14.0,"k":471},{"t":14.0,"k":411},{"t":14.0,"k":355},{"t":14.0,"k":323},{"t":14.0,"k":297},{"t":14.0,"k":272},{"t":14.0,"k":247},{"t":14.0,"k":221},{"t":14.0,"k":194},{"t":14.0,"k":159},{"t":14.0,"k":104},{"t":14.0,"k":55},
{"t":14.05,"k":458},{"t":14.05,"k":391},{"t":14.05,"k":343},{"t":14.05,"k":315},{"t":14.05,"k":290},{"t":14.05,"k":265},{"t":14.05,"k":239},{"t":14.05,"k":214},{"t":14.05,"k":186},{"t":14.05,"k":143},{"t":14.05,"k":80},
{"t":14.1,"k":426},{"t":14.1,"k":368},{"t":14.1,"k":331},{"t":14.1,"k":304},{"t":14.1,"k":280},{"t":14.1,"k":255},{"t":14.1,"k":229},{"t":14.1,"k":203},{"t":14.1,"k":171},{"t":14.1,"k":119},{"t":14.1,"k":33},
{"t":14.15,"k":484},{"t":14.15,"k":404},{"t":14.15,"k":349},{"t":14.15,"k":320},{"t":14.15,"k":295},{"t":14.15,"k":270},{"t":14.15,"k":244},{"t":14.15,"k":218},{"t":14.15,"k":191},{"t":14.15,"k":152},{"t":14.15,"k":91},
{"t":14.2,"k":441},{"t":14.2,"k":375},{"t":14.2,"k":336},{"t":14.2,"k":308},{"t":14.2,"k":283},{"t":14.2,"k":258},{"t":14.2,"k":232},{"t":14.2,"k":207},{"t":14.2,"k":178},{"t":14.2,"k":128},{"t":14.2,"k":61},{"t":14.2,"k":6},
{"t":14.25,"k":469},{"t":14.25,"k":399},{"t":14.25,"k":346},{"t":14.25,"k":317},{"t":14.25,"k":292},{"t":14.25,"k":267},{"t":14.25,"k":242},{"t":14.25,"k":216},{"t":14.25,"k":189},{"t":14.25,"k":149},{"t":14.25,"k":99},
{"t":14.3,"k":493},{"t":14.3,"k":430},{"t":14.3,"k":364},{"t":14.3,"k":329},{"t":14.3,"k":301},{"t":14.3,"k":277},{"t":14.3,"k":251},{"t":14.3,"k":226},{"t":14.3,"k":199},{"t":14.3,"k":165},{"t":14.3,"k":114},{"t":14.3,"k":42},
{"t":14.35,"k":451},{"t":14.35,"k":383},{"t":14.35,"k":339},{"t":14.35,"k":311},{"t":14.35,"k":286},{"t":14.35,"k":261},{"t":14.35,"k":236},{"t":14.35,"k":210},{"t":14.35,"k":182},{"t":14.35,"k":134},{"t":14.35,"k":70},
{"t":14.4,"k":506},{"t":14.4,"k":476},{"t":14.4,"k":413},{"t":14.4,"k":356},{"t":14.4,"k":325},{"t":14.4,"k":298},{"t":14.4,"k":273},{"t":14.4,"k":248},{"t":14.4,"k":222},{"t":14.4,"k":195},{"t":14.4,"k":160},{"t":14.4,"k":106},{"t":14.4,"k":21},
{"t":14.45,"k":487},{"t":14.45,"k":439},{"t":14.45,"k":371},{"t":14.45,"k":334},{"t":14.45,"k":307},{"t":14.45,"k":282},{"t":14.45,"k":256},{"t":14.45,"k":231},{"t":14.45,"k":205},{"t":14.45,"k":174},{"t":14.45,"k":123},{"t":14.45,"k":52},
{"t":14.5,"k":498},{"t":14.5,"k":462},{"t":14.5,"k":396},{"t":14.5,"k":345},{"t":14.5,"k":318},{"t":14.5,"k":293},{"t":14.5,"k":268},{"t":14.5,"k":243},{"t":14.5,"k":217},{"t":14.5,"k":190},{"t":14.5,"k":147},{"t":14.5,"k":86},
{"t":14.55,"k":433},{"t":14.55,"k":367},{"t":14.55,"k":330},{"t":14.55,"k":304},{"t":14.55,"k":279},{"t":14.55,"k":254},{"t":14.55,"k":228},{"t":14.55,"k":202},{"t":14.55,"k":170},{"t":14.55,"k":116},{"t":14.55,"k":37},
{"t":14.6,"k":418},{"t":14.6,"k":358},{"t":14.6,"k":325},{"t":14.6,"k":299},{"t":14.6,"k":274},{"t":14.6,"k":249},{"t":14.6,"k":224},{"t":14.6,"k":197},{"t":14.6,"k":163},{"t":14.6,"k":101},{"t":14.6,"k":11},
{"t":14.65,"k":446},{"t":14.65,"k":379},{"t":14.65,"k":337},{"t":14.65,"k":310},{"t":14.65,"k":285},{"t":14.65,"k":260},{"t":14.65,"k":234},{"t":14.65,"k":209},{"t":14.65,"k":180},{"t":14.65,"k":132},{"t":14.65,"k":64},
{"t":14.7,"k":402},{"t":14.7,"k":353},{"t":14.7,"k":322},{"t":14.7,"k":296},{"t":14.7,"k":271},{"t":14.7,"k":246},{"t":14.7,"k":220},{"t":14.7,"k":193},{"t":14.7,"k":155},{"t":14.7,"k":94},
{"t":14.75,"k":428},{"t":14.75,"k":366},{"t":14.75,"k":331},{"t":14.75,"k":305},{"t":14.75,"k":280},{"t":14.75,"k":255},{"t":14.75,"k":229},{"t":14.75,"k":204},{"t":14.75,"k":172},{"t":14.75,"k":120},{"t":14.75,"k":46},
{"t":14.8,"k":395},{"t":14.8,"k":348},{"t":14.8,"k":318},{"t":14.8,"k":292},{"t":14.8,"k":267},{"t":14.8,"k":242},{"t":14.8,"k":216},{"t":14.8,"k":188},{"t":14.8,"k":150},{"t":14.8,"k":78},
{"t":14.85,"k":437},{"t":14.85,"k":372},{"t":14.85,"k":334},{"t":14.85,"k":307},{"t":14.85,"k":282},{"t":14.85,"k":257},{"t":14.85,"k":232},{"t":14.85,"k":206},{"t":14.85,"k":176},{"t":14.85,"k":127},{"t":14.85,"k":27},
{"t":14.9,"k":412},{"t":14.9,"k":357},{"t":14.9,"k":325},{"t":14.9,"k":298},{"t":14.9,"k":273},{"t":14.9,"k":248},{"t":14.9,"k":222},{"t":14.9,"k":196},{"t":14.9,"k":161},{"t":14.9,"k":103},
{"t":14.95,"k":459},{"t":14.95,"k":387},{"t":14.95,"k":341},{"t":14.95,"k":313},{"t":14.95,"k":288},{"t":14.95,"k":263},{"t":14.95,"k":238},{"t":14.95,"k":212},{"t":14.95,"k":184},{"t":14.95,"k":137},{"t":14.95,"k":59},
{"t":15.0,"k":423},{"t":15.0,"k":363},{"t":15.0,"k":329},{"t":15.0,"k":302},{"t":15.0,"k":277},{"t":15.0,"k":252},{"t":15.0,"k":226},{"t":15.0,"k":200},{"t":15.0,"k":167},{"t":15.0,"k":112},{"t":15.0,"k":15},
{"t":15.05,"k":448},{"t":15.05,"k":381},{"t":15.05,"k":338},{"t":15.05,"k":310},{"t":15.05,"k":285},{"t":15.05,"k":260},{"t":15.05,"k":234},{"t":15.05,"k":208},{"t":15.05,"k":179},{"t":15.05,"k":131},{"t":15.05,"k":71},
{"t":15.1,"k":406},{"t":15.1,"k":355},{"t":15.1,"k":323},{"t":15.1,"k":297},{"t":15.1,"k":272},{"t":15.1,"k":247},{"t":15.1,"k":221},{"t":15.1,"k":194},{"t":15.1,"k":158},{"t":15.1,"k":92},{"t":15.1,"k":33},
{"t":15.15,"k":464},{"t":15.15,"k":392},{"t":15.15,"k":344},{"t":15.15,"k":315},{"t":15.15,"k":290},{"t":15.15,"k":265},{"t":15.15,"k":239},{"t":15.15,"k":213},{"t":15.15,"k":186},{"t":15.15,"k":141},
{"t":15.2,"k":431},{"t":15.2,"k":370},{"t":15.2,"k":333},{"t":15.2,"k":306},{"t":15.2,"k":281},{"t":15.2,"k":256},{"t":15.2,"k":230},{"t":15.2,"k":204},{"t":15.2,"k":173},{"t":15.2,"k":118},{"t":15.2,"k":48},
{"t":15.25,"k":398},{"t":15.25,"k":352},{"t":15.25,"k":320},{"t":15.25,"k":294},{"t":15.25,"k":269},{"t":15.25,"k":244},{"t":15.25,"k":218},{"t":15.25,"k":191},{"t":15.25,"k":154},{"t":15.25,"k":87},
{"t":15.3,"k":442},{"t":15.3,"k":376},{"t":15.3,"k":336},{"t":15.3,"k":309},{"t":15.3,"k":284},{"t":15.3,"k":259},{"t":15.3,"k":233},{"t":15.3,"k":207},{"t":15.3,"k":177},{"t":15.3,"k":126},
{"t":15.35,"k":415},{"t":15.35,"k":361},{"t":15.35,"k":328},{"t":15.35,"k":301},{"t":15.35,"k":276},{"t":15.35,"k":251},{"t":15.35,"k":225},{"t":15.35,"k":199},{"t":15.35,"k":165},{"t":15.35,"k":108},{"t":15.35,"k":62},
{"t":15.4,"k":453},{"t":15.4,"k":385},{"t":15.4,"k":340},{"t":15.4,"k":312},{"t":15.4,"k":287},{"t":15.4,"k":262},{"t":15.4,"k":236},{"t":15.4,"k":210},{"t":15.4,"k":182},{"t":15.4,"k":135},
{"t":15.45,"k":426},{"t":15.45,"k":366},{"t":15.45,"k":331},{"t":15.45,"k":304},{"t":15.45,"k":279},{"t":15.45,"k":254},{"t":15.45,"k":228},{"t":15.45,"k":202},{"t":15.45,"k":170},{"t":15.45,"k":114},{"t":15.45,"k":74},
{"t":15.5,"k":468},{"t":15.5,"k":394},{"t":15.5,"k":345},{"t":15.5,"k":317},{"t":15.5,"k":291},{"t":15.5,"k":266},{"t":15.5,"k":241},{"t":15.5,"k":215},{"t":15.5,"k":188},{"t":15.5,"k":148},{"t":15.5,"k":96},
{"t":15.55,"k":457},{"t":15.55,"k":402},{"t":15.55,"k":351},{"t":15.55,"k":322},{"t":15.55,"k":296},{"t":15.55,"k":271},{"t":15.55,"k":245},{"t":15.55,"k":219},{"t":15.55,"k":192},{"t":15.55,"k":156},{"t":15.55,"k":103},{"t":15.55,"k":58},
{"t":15.6,"k":427},{"t":15.6,"k":338},{"t":15.6,"k":316},{"t":15.6,"k":293},{"t":15.6,"k":268},{"t":15.6,"k":242},{"t":15.6,"k":216},{"t":15.6,"k":189},{"t":15.6,"k":152},{"t":15.6,"k":117},{"t":15.6,"k":83},{"t":15.6,"k":49},
{"t":15.65,"k":331},{"t":15.65,"k":309},{"t":15.65,"k":287},{"t":15.65,"k":263},{"t":15.65,"k":237},{"t":15.65,"k":211},{"t":15.65,"k":184},{"t":15.65,"k":146},
{"t":12.28,"k":274},{"t":12.28,"k":253},{"t":12.28,"k":237},{"t":12.28,"k":205},{"t":12.28,"k":168},
{"t":12.33,"k":298},{"t":12.33,"k":262},{"t":12.33,"k":243},{"t":12.33,"k":228},{"t":12.33,"k":186},{"t":12.33,"k":113},
{"t":12.38,"k":334},{"t":12.38,"k":289},{"t":12.38,"k":251},{"t":12.38,"k":232},{"t":12.38,"k":197},{"t":12.38,"k":144},{"t":12.38,"k":61},
{"t":12.43,"k":377},{"t":12.43,"k":312},{"t":12.43,"k":279},{"t":12.43,"k":249},{"t":12.43,"k":224},{"t":12.43,"k":191},{"t":12.43,"k":128},
{"t":12.48,"k":431},{"t":12.48,"k":346},{"t":12.48,"k":318},{"t":12.48,"k":287},{"t":12.48,"k":262},{"t":12.48,"k":241},{"t":12.48,"k":213},{"t":12.48,"k":178},{"t":12.48,"k":74},
{"t":12.53,"k":462},{"t":12.53,"k":369},{"t":12.53,"k":337},{"t":12.53,"k":308},{"t":12.53,"k":283},{"t":12.53,"k":258},{"t":12.53,"k":236},{"t":12.53,"k":195},{"t":12.53,"k":133},
{"t":12.58,"k":417},{"t":12.58,"k":352},{"t":12.58,"k":326},{"t":12.58,"k":294},{"t":12.58,"k":270},{"t":12.58,"k":243},{"t":12.58,"k":216},{"t":12.58,"k":184},{"t":12.58,"k":102},
{"t":12.63,"k":478},{"t":12.63,"k":393},{"t":12.63,"k":338},{"t":12.63,"k":313},{"t":12.63,"k":291},{"t":12.63,"k":266},{"t":12.63,"k":239},{"t":12.63,"k":211},{"t":12.63,"k":153},{"t":12.63,"k":27},
{"t":12.68,"k":445},{"t":12.68,"k":359},{"t":12.68,"k":328},{"t":12.68,"k":302},{"t":12.68,"k":279},{"t":12.68,"k":253},{"t":12.68,"k":229},{"t":12.68,"k":193},{"t":12.68,"k":117},
{"t":12.73,"k":412},{"t":12.73,"k":356},{"t":12.73,"k":322},{"t":12.73,"k":297},{"t":12.73,"k":274},{"t":12.73,"k":249},{"t":12.73,"k":222},{"t":12.73,"k":204},{"t":12.73,"k":163},{"t":12.73,"k":83},
{"t":12.78,"k":488},{"t":12.78,"k":374},{"t":12.78,"k":341},{"t":12.78,"k":319},{"t":12.78,"k":286},{"t":12.78,"k":261},{"t":12.78,"k":236},{"t":12.78,"k":208},{"t":12.78,"k":138},
{"t":12.83,"k":452},{"t":12.83,"k":367},{"t":12.83,"k":331},{"t":12.83,"k":305},{"t":12.83,"k":277},{"t":12.83,"k":246},{"t":12.83,"k":220},{"t":12.83,"k":191},{"t":12.83,"k":109},{"t":12.83,"k":46},
{"t":12.88,"k":398},{"t":12.88,"k":348},{"t":12.88,"k":320},{"t":12.88,"k":294},{"t":12.88,"k":269},{"t":12.88,"k":244},{"t":12.88,"k":218},{"t":12.88,"k":172},
{"t":12.93,"k":469},{"t":12.93,"k":384},{"t":12.93,"k":339},{"t":12.93,"k":312},{"t":12.93,"k":288},{"t":12.93,"k":262},{"t":12.93,"k":237},{"t":12.93,"k":201},{"t":12.93,"k":147},
{"t":12.98,"k":451},{"t":12.98,"k":372},{"t":12.98,"k":334},{"t":12.98,"k":306},{"t":12.98,"k":280},{"t":12.98,"k":255},{"t":12.98,"k":230},{"t":12.98,"k":204},{"t":12.98,"k":158},
{"t":13.03,"k":441},{"t":13.03,"k":363},{"t":13.03,"k":327},{"t":13.03,"k":301},{"t":13.03,"k":274},{"t":13.03,"k":250},{"t":13.03,"k":225},{"t":13.03,"k":196},{"t":13.03,"k":119},
{"t":13.08,"k":486},{"t":13.08,"k":405},{"t":13.08,"k":352},{"t":13.08,"k":329},{"t":13.08,"k":303},{"t":13.08,"k":278},{"t":13.08,"k":252},{"t":13.08,"k":227},{"t":13.08,"k":168},{"t":13.08,"k":71},
{"t":13.13,"k":418},{"t":13.13,"k":357},{"t":13.13,"k":318},{"t":13.13,"k":291},{"t":13.13,"k":264},{"t":13.13,"k":239},{"t":13.13,"k":214},{"t":13.13,"k":183},
{"t":13.18,"k":461},{"t":13.18,"k":371},{"t":13.18,"k":335},{"t":13.18,"k":308},{"t":13.18,"k":283},{"t":13.18,"k":257},{"t":13.18,"k":231},{"t":13.18,"k":204},{"t":13.18,"k":142},{"t":13.18,"k":23},
{"t":13.23,"k":397},{"t":13.23,"k":341},{"t":13.23,"k":313},{"t":13.23,"k":287},{"t":13.23,"k":262},{"t":13.23,"k":236},{"t":13.23,"k":212},{"t":13.23,"k":161},
{"t":13.28,"k":436},{"t":13.28,"k":368},{"t":13.28,"k":331},{"t":13.28,"k":304},{"t":13.28,"k":279},{"t":13.28,"k":253},{"t":13.28,"k":228},{"t":13.28,"k":193},{"t":13.28,"k":88},
{"t":13.33,"k":472},{"t":13.33,"k":388},{"t":13.33,"k":344},{"t":13.33,"k":318},{"t":13.33,"k":292},{"t":13.33,"k":267},{"t":13.33,"k":241},{"t":13.33,"k":216},{"t":13.33,"k":174},
{"t":13.38,"k":421},{"t":13.38,"k":359},{"t":13.38,"k":325},{"t":13.38,"k":298},{"t":13.38,"k":273},{"t":13.38,"k":248},{"t":13.38,"k":222},{"t":13.38,"k":197},{"t":13.38,"k":127},
{"t":13.43,"k":495},{"t":13.43,"k":413},{"t":13.43,"k":349},{"t":13.43,"k":322},{"t":13.43,"k":296},{"t":13.43,"k":271},{"t":13.43,"k":245},{"t":13.43,"k":219},{"t":13.43,"k":186},{"t":13.43,"k":64},
{"t":13.48,"k":439},{"t":13.48,"k":366},{"t":13.48,"k":328},{"t":13.48,"k":301},{"t":13.48,"k":276},{"t":13.48,"k":251},{"t":13.48,"k":226},{"t":13.48,"k":199},{"t":13.48,"k":152},
{"t":13.53,"k":407},{"t":13.53,"k":355},{"t":13.53,"k":319},{"t":13.53,"k":293},{"t":13.53,"k":267},{"t":13.53,"k":242},{"t":13.53,"k":218},{"t":13.53,"k":171},{"t":13.53,"k":116},
{"t":13.58,"k":458},{"t":13.58,"k":377},{"t":13.58,"k":337},{"t":13.58,"k":311},{"t":13.58,"k":285},{"t":13.58,"k":259},{"t":13.58,"k":233},{"t":13.58,"k":207},{"t":13.58,"k":142},
{"t":13.63,"k":419},{"t":13.63,"k":352},{"t":13.63,"k":321},{"t":13.63,"k":295},{"t":13.63,"k":270},{"t":13.63,"k":245},{"t":13.63,"k":219},{"t":13.63,"k":188},{"t":13.63,"k":79},
{"t":13.68,"k":484},{"t":13.68,"k":392},{"t":13.68,"k":341},{"t":13.68,"k":314},{"t":13.68,"k":289},{"t":13.68,"k":263},{"t":13.68,"k":238},{"t":13.68,"k":212},{"t":13.68,"k":166},
{"t":13.73,"k":433},{"t":13.73,"k":363},{"t":13.73,"k":327},{"t":13.73,"k":302},{"t":13.73,"k":276},{"t":13.73,"k":250},{"t":13.73,"k":225},{"t":13.73,"k":197},{"t":13.73,"k":134},{"t":13.73,"k":38},
{"t":13.78,"k":401},{"t":13.78,"k":349},{"t":13.78,"k":318},{"t":13.78,"k":292},{"t":13.78,"k":266},{"t":13.78,"k":241},{"t":13.78,"k":216},{"t":13.78,"k":181},
{"t":13.83,"k":466},{"t":13.83,"k":381},{"t":13.83,"k":338},{"t":13.83,"k":310},{"t":13.83,"k":285},{"t":13.83,"k":260},{"t":13.83,"k":234},{"t":13.83,"k":209},{"t":13.83,"k":154},{"t":13.83,"k":92},
{"t":13.88,"k":427},{"t":13.88,"k":360},{"t":13.88,"k":326},{"t":13.88,"k":299},{"t":13.88,"k":273},{"t":13.88,"k":248},{"t":13.88,"k":222},{"t":13.88,"k":195},
{"t":13.93,"k":479},{"t":13.93,"k":402},{"t":13.93,"k":347},{"t":13.93,"k":320},{"t":13.93,"k":294},{"t":13.93,"k":268},{"t":13.93,"k":243},{"t":13.93,"k":217},{"t":13.93,"k":172},{"t":13.93,"k":121},
{"t":13.98,"k":438},{"t":13.98,"k":371},{"t":13.98,"k":333},{"t":13.98,"k":306},{"t":13.98,"k":281},{"t":13.98,"k":255},{"t":13.98,"k":230},{"t":13.98,"k":205},{"t":13.98,"k":146},
{"t":14.03,"k":492},{"t":14.03,"k":424},{"t":14.03,"k":359},{"t":14.03,"k":327},{"t":14.03,"k":300},{"t":14.03,"k":275},{"t":14.03,"k":249},{"t":14.03,"k":224},{"t":14.03,"k":199},{"t":14.03,"k":131},{"t":14.03,"k":27},
{"t":14.08,"k":409},{"t":14.08,"k":353},{"t":14.08,"k":322},{"t":14.08,"k":296},{"t":14.08,"k":271},{"t":14.08,"k":246},{"t":14.08,"k":220},{"t":14.08,"k":187},{"t":14.08,"k":96},
{"t":14.13,"k":455},{"t":14.13,"k":378},{"t":14.13,"k":337},{"t":14.13,"k":309},{"t":14.13,"k":284},{"t":14.13,"k":259},{"t":14.13,"k":233},{"t":14.13,"k":208},{"t":14.13,"k":163},
{"t":14.18,"k":421},{"t":14.18,"k":361},{"t":14.18,"k":327},{"t":14.18,"k":301},{"t":14.18,"k":276},{"t":14.18,"k":251},{"t":14.18,"k":225},{"t":14.18,"k":199},{"t":14.18,"k":141},{"t":14.18,"k":48},
{"t":14.23,"k":481},{"t":14.23,"k":389},{"t":14.23,"k":342},{"t":14.23,"k":315},{"t":14.23,"k":289},{"t":14.23,"k":264},{"t":14.23,"k":238},{"t":14.23,"k":213},{"t":14.23,"k":177},
{"t":14.28,"k":444},{"t":14.28,"k":369},{"t":14.28,"k":331},{"t":14.28,"k":305},{"t":14.28,"k":279},{"t":14.28,"k":254},{"t":14.28,"k":229},{"t":14.28,"k":203},{"t":14.28,"k":158},{"t":14.28,"k":84},
{"t":14.33,"k":497},{"t":14.33,"k":412},{"t":14.33,"k":351},{"t":14.33,"k":323},{"t":14.33,"k":297},{"t":14.33,"k":272},{"t":14.33,"k":246},{"t":14.33,"k":221},{"t":14.33,"k":193},{"t":14.33,"k":119},
{"t":14.38,"k":463},{"t":14.38,"k":384},{"t":14.38,"k":339},{"t":14.38,"k":311},{"t":14.38,"k":286},{"t":14.38,"k":261},{"t":14.38,"k":235},{"t":14.38,"k":210},{"t":14.38,"k":167},
{"t":14.43,"k":491},{"t":14.43,"k":426},{"t":14.43,"k":361},{"t":14.43,"k":330},{"t":14.43,"k":303},{"t":14.43,"k":278},{"t":14.43,"k":252},{"t":14.43,"k":227},{"t":14.43,"k":201},{"t":14.43,"k":139},{"t":14.43,"k":77},
{"t":14.48,"k":472},{"t":14.48,"k":404},{"t":14.48,"k":348},{"t":14.48,"k":319},{"t":14.48,"k":294},{"t":14.48,"k":269},{"t":14.48,"k":243},{"t":14.48,"k":218},{"t":14.48,"k":184},
{"t":14.53,"k":452},{"t":14.53,"k":378},{"t":14.53,"k":335},{"t":14.53,"k":308},{"t":14.53,"k":283},{"t":14.53,"k":258},{"t":14.53,"k":232},{"t":14.53,"k":207},{"t":14.53,"k":154},{"t":14.53,"k":68},
{"t":14.58,"k":397},{"t":14.58,"k":345},{"t":14.58,"k":315},{"t":14.58,"k":289},{"t":14.58,"k":264},{"t":14.58,"k":239},{"t":14.58,"k":213},{"t":14.58,"k":177},
{"t":14.63,"k":426},{"t":14.63,"k":361},{"t":14.63,"k":328},{"t":14.63,"k":302},{"t":14.63,"k":277},{"t":14.63,"k":252},{"t":14.63,"k":226},{"t":14.63,"k":200},{"t":14.63,"k":145},{"t":14.63,"k":32},
{"t":14.68,"k":384},{"t":14.68,"k":339},{"t":14.68,"k":311},{"t":14.68,"k":285},{"t":14.68,"k":260},{"t":14.68,"k":235},{"t":14.68,"k":209},{"t":14.68,"k":168},
{"t":14.73,"k":417},{"t":14.73,"k":355},{"t":14.73,"k":323},{"t":14.73,"k":297},{"t":14.73,"k":272},{"t":14.73,"k":247},{"t":14.73,"k":221},{"t":14.73,"k":195},{"t":14.73,"k":111},
{"t":14.78,"k":375},{"t":14.78,"k":333},{"t":14.78,"k":306},{"t":14.78,"k":280},{"t":14.78,"k":255},{"t":14.78,"k":230},{"t":14.78,"k":204},{"t":14.78,"k":159},{"t":14.78,"k":59},
{"t":14.83,"k":409},{"t":14.83,"k":351},{"t":14.83,"k":320},{"t":14.83,"k":294},{"t":14.83,"k":269},{"t":14.83,"k":244},{"t":14.83,"k":218},{"t":14.83,"k":190},{"t":14.83,"k":134},
{"t":14.88,"k":388},{"t":14.88,"k":342},{"t":14.88,"k":313},{"t":14.88,"k":287},{"t":14.88,"k":262},{"t":14.88,"k":237},{"t":14.88,"k":211},{"t":14.88,"k":173},{"t":14.88,"k":82},
{"t":14.93,"k":431},{"t":14.93,"k":366},{"t":14.93,"k":331},{"t":14.93,"k":304},{"t":14.93,"k":279},{"t":14.93,"k":254},{"t":14.93,"k":229},{"t":14.93,"k":202},{"t":14.93,"k":147},
{"t":14.98,"k":395},{"t":14.98,"k":346},{"t":14.98,"k":316},{"t":14.98,"k":290},{"t":14.98,"k":265},{"t":14.98,"k":240},{"t":14.98,"k":214},{"t":14.98,"k":181},{"t":14.98,"k":97},
{"t":15.03,"k":437},{"t":15.03,"k":369},{"t":15.03,"k":332},{"t":15.03,"k":306},{"t":15.03,"k":281},{"t":15.03,"k":256},{"t":15.03,"k":230},{"t":15.03,"k":204},{"t":15.03,"k":156},{"t":15.03,"k":41},
{"t":15.08,"k":382},{"t":15.08,"k":339},{"t":15.08,"k":311},{"t":15.08,"k":285},{"t":15.08,"k":260},{"t":15.08,"k":235},{"t":15.08,"k":209},{"t":15.08,"k":175},{"t":15.08,"k":124},
{"t":15.13,"k":421},{"t":15.13,"k":358},{"t":15.13,"k":326},{"t":15.13,"k":300},{"t":15.13,"k":275},{"t":15.13,"k":250},{"t":15.13,"k":224},{"t":15.13,"k":198},{"t":15.13,"k":143},
{"t":15.18,"k":447},{"t":15.18,"k":373},{"t":15.18,"k":337},{"t":15.18,"k":310},{"t":15.18,"k":285},{"t":15.18,"k":260},{"t":15.18,"k":234},{"t":15.18,"k":208},{"t":15.18,"k":162},{"t":15.18,"k":86},
{"t":15.23,"k":412},{"t":15.23,"k":352},{"t":15.23,"k":321},{"t":15.23,"k":295},{"t":15.23,"k":270},{"t":15.23,"k":245},{"t":15.23,"k":219},{"t":15.23,"k":192},{"t":15.23,"k":129},
{"t":15.28,"k":391},{"t":15.28,"k":345},{"t":15.28,"k":315},{"t":15.28,"k":289},{"t":15.28,"k":264},{"t":15.28,"k":239},{"t":15.28,"k":213},{"t":15.28,"k":185},{"t":15.28,"k":103},
{"t":15.33,"k":429},{"t":15.33,"k":363},{"t":15.33,"k":330},{"t":15.33,"k":303},{"t":15.33,"k":278},{"t":15.33,"k":253},{"t":15.33,"k":227},{"t":15.33,"k":201},{"t":15.33,"k":151},
{"t":15.38,"k":404},{"t":15.38,"k":354},{"t":15.38,"k":323},{"t":15.38,"k":297},{"t":15.38,"k":272},{"t":15.38,"k":247},{"t":15.38,"k":221},{"t":15.38,"k":195},{"t":15.38,"k":137},{"t":15.38,"k":53},
{"t":15.43,"k":441},{"t":15.43,"k":372},{"t":15.43,"k":334},{"t":15.43,"k":307},{"t":15.43,"k":282},{"t":15.43,"k":257},{"t":15.43,"k":231},{"t":15.43,"k":205},{"t":15.43,"k":166},
{"t":15.48,"k":416},{"t":15.48,"k":359},{"t":15.48,"k":326},{"t":15.48,"k":300},{"t":15.48,"k":275},{"t":15.48,"k":250},{"t":15.48,"k":224},{"t":15.48,"k":197},{"t":15.48,"k":128},{"t":15.48,"k":81},
{"t":15.53,"k":449},{"t":15.53,"k":381},{"t":15.53,"k":338},{"t":15.53,"k":311},{"t":15.53,"k":286},{"t":15.53,"k":261},{"t":15.53,"k":235},{"t":15.53,"k":209},{"t":15.53,"k":173},{"t":15.53,"k":121},
{"t":15.58,"k":325},{"t":15.58,"k":302},{"t":15.58,"k":279},{"t":15.58,"k":254},{"t":15.58,"k":229},{"t":15.58,"k":203},{"t":15.58,"k":171},{"t":15.58,"k":134},{"t":15.58,"k":66},
{"t":15.63,"k":318},{"t":15.63,"k":296},{"t":15.63,"k":271},{"t":15.63,"k":246},{"t":15.63,"k":221},{"t":15.63,"k":196},{"t":15.63,"k":162},{"t":15.63,"k":109}
]
},
"layer": [
{
"data": {"name": "noise"},
"mark": {"type": "tick", "orient": "vertical", "size": 4.5, "thickness": 1.5, "color": "#000", "opacity": 1},
"encoding": {
"x": {"field": "t", "type": "quantitative", "scale": {"domain": [0, 25], "nice": false, "zero": false},
"axis": {"orient": "bottom", "title": "Time (UTC)", "titleFontSize": 19, "titlePadding": 5, "labelFontSize": 20, "labelPadding": 40, "labelFlush": false, "labelOverlap": false,
"values": [0,1,2,3,4,5,6,7,8,9,10,11,12,13,14,15,16,17,18,19,20,21,22,23,24,25],
"labelExpr": "datum.value % 5 === 0 ? datum.label : ''",
"tickSize": {"condition": {"test": "datum.value % 5 === 0", "value": -15}, "value": -8}}},
"y": {"field": "k", "type": "quantitative", "scale": {"domain": [0, 500], "nice": false, "zero": false, "clamp": true},
"axis": {"orient": "left", "title": "TB (K)", "titleFontSize": 19, "titlePadding": 16, "labelFontSize": 20, "labelPadding": 29, "labelFlush": true, "labelOverlap": false,
"values": [0,10,20,30,40,50,60,70,80,90,100,110,120,130,140,150,160,170,180,190,200,210,220,230,240,250,260,270,280,290,300,310,320,330,340,350,360,370,380,390,400,410,420,430,440,450,460,470,480,490,500],
"labelExpr": "datum.value % 100 === 0 ? datum.label : ''",
"tickSize": {"condition": {"test": "datum.value % 100 === 0", "value": -20}, "value": -10}}}
}
},
{
"data": {"name": "base"},
"mark": {"type": "tick", "orient": "horizontal", "size": 4.2, "thickness": 3, "color": "#000", "opacity": 1},
"encoding": {
"x": {"field": "t", "type": "quantitative",
"axis": {"orient": "top", "title": null, "labels": false,
"values": [0,1,2,3,4,5,6,7,8,9,10,11,12,13,14,15,16,17,18,19,20,21,22,23,24,25],
"tickSize": {"condition": {"test": "datum.value % 5 === 0", "value": -15}, "value": -8}}},
"y": {"field": "k", "type": "quantitative",
"axis": {"orient": "right", "title": null, "labels": false,
"values": [0,10,20,30,40,50,60,70,80,90,100,110,120,130,140,150,160,170,180,190,200,210,220,230,240,250,260,270,280,290,300,310,320,330,340,350,360,370,380,390,400,410,420,430,440,450,460,470,480,490,500],
"tickSize": {"condition": {"test": "datum.value % 100 === 0", "value": -20}, "value": -10}}}
}
}
],
"resolve": {"axis": {"x": "independent", "y": "independent"}}
}
